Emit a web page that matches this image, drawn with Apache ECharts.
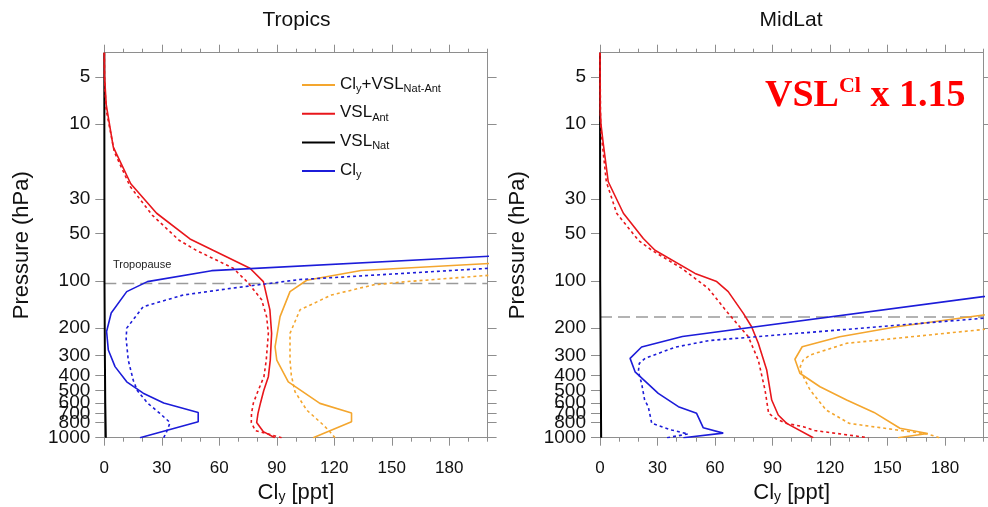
<!DOCTYPE html>
<html>
<head>
<meta charset="utf-8">
<title>Cly profiles</title>
<script src="https://cdn.jsdelivr.net/npm/echarts@6/dist/echarts.min.js"></script>
<style>
  html, body { margin: 0; padding: 0; background: #ffffff; }
  #chart { width: 988px; height: 507px; }
</style>
</head>
<body>
<div id="chart"></div>
<script>
// ---- axis ranges and ticks ----
const P_TOP = 3.5;       // hPa, top of the plot
const P_BOTTOM = 1000;   // hPa, surface
const CLY_MIN = 0;
const CLY_MAX = 200;
const PRESSURE_TICKS = [5, 10, 30, 50, 100, 200, 300, 400, 500, 600, 700, 800, 1000];
// labels drawn by a second, line-less axis so that the tightly packed
// labels next to the surface are not dropped by the min/max overlap check
const PRESSURE_EXTRA_LABELS = [800];
const CLY_TICKS = [0, 30, 60, 90, 120, 150, 180];
const CLY_MINOR_TICKS = [10, 20, 40, 50, 70, 80, 100, 110, 130, 140, 160, 170, 190, 200];

// ---- tropopause pressure (hPa) ----
const TROPOPAUSE_TROPICS = 104;
const TROPOPAUSE_MIDLAT = 170;

// ---- Tropics profiles: [pressure hPa, mixing ratio ppt] ----
const tropicsTotalSolid = [[1000,109],[790,129],[695,129],[604,112.5],[440,96],[320,90],[263,89.1],[169,91.7],[117,96.9],[99,105.6],[85.7,134],[77.3,201],[68,290]];
const tropicsTotalDotted = [[1000,120.4],[915,117.7],[830,114.3],[666,105.6],[509,99.5],[400,97.6],[320,96.9],[216,96.9],[153,102.1],[123,118.5],[106,140.3],[101,157.8],[92,201],[83,250]];
const tropicsAntSolid = [[3.5,0],[5,0.15],[7.5,1],[14,4.7],[24,13.8],[37,27.3],[54,44.7],[64,57],[83,76],[101,83],[153,86.4],[216,87.3],[320,86.6],[408,85.6],[500,83.2],[600,81.5],[700,80.2],[800,79.5],[915,83],[1000,89]];
const tropicsAntDotted = [[3.5,0],[5,0.1],[8,0.9],[15,5.2],[25,13.5],[38,25],[55,39],[64,48.2],[83,67.3],[103,75.1],[132,82.1],[169,84.7],[216,85.6],[320,84.5],[408,83.3],[500,80.3],[600,77.8],[700,76.8],[800,76.7],[900,78.8],[1000,92.5]];
const tropicsNat = [[3.5,0],[100,0.1],[300,0.3],[600,0.5],[1000,0.8]];
const tropicsClySolid = [[1000,18.6],[790,49],[690,49],[600,31],[520,20.3],[440,11.7],[352,5.6],[276,2.1],[210,1.2],[160,3.6],[117,11.7],[101,22.5],[86,56],[69.5,201],[61,290]];
const tropicsClyDotted = [[1000,31],[900,32.8],[800,34.3],[700,29],[600,22.5],[500,17.2],[430,15.1],[320,12.5],[234,11.4],[200,11.7],[146,20.3],[123,41.2],[111,67.3],[98,102],[83,201],[75.5,260]];

// ---- MidLat profiles: [pressure hPa, mixing ratio ppt] ----
const midlatTotalSolid = [[1000,155.5],[940,171],[870,156.5],[690,143],[575,128.7],[473,114.8],[388,104.3],[316,101.7],[263,105.5],[227,125.1],[196,154.8],[165,200],[131.5,260]];
const midlatTotalDotted = [[1000,177],[947,171],[893,155],[810,130],[666,118],[496,109.6],[388,105.2],[352,104.5],[320,106],[297,109.6],[250,128.7],[204,200],[172,260]];
const midlatAntSolid = [[3.5,0],[8,0.1],[10,0.5],[13.3,1.7],[23.3,4.3],[37,12.2],[53.6,22.6],[63.7,28.7],[89.5,49.6],[101,60.9],[117,66.9],[161,74.8],[196,79.1],[250,82.6],[370,87],[575,89.6],[716,93],[810,97.4],[1000,111.3]];
const midlatAntDotted = [[3.5,0],[10,0.3],[13.3,1.2],[23.3,3.3],[37,8.7],[55,20],[63.7,27],[83,42.6],[111.6,56.5],[161,66.9],[227,77.4],[320,82.6],[496,86.1],[700,88],[760,92],[810,97.4],[850,106],[900,112],[1000,140]];
const midlatNat = [[3.5,0],[100,0.1],[1000,0.6]];
const midlatClySolid = [[1000,43.5],[935,64.3],[865,53.9],[699,50.4],[634,40.9],[521,30.4],[380,18.3],[312,15.7],[264,21.7],[226,43],[100,262]];
const midlatClyDotted = [[1000,35],[947,46],[893,37.3],[810,27],[634,25.2],[575,23.3],[450,21.7],[380,20],[336,20.5],[312,23.5],[265,39],[240,57],[173,200],[139,300]];

// ---- styling ----
const FONT = 'Liberation Sans, Arial, Helvetica, sans-serif';
const SERIF = 'Liberation Serif, Times New Roman, serif';
const AXIS_COLOR = '#8e8e8e';
const TEXT_COLOR = '#111111';
const COLOR_TOTAL = '#f4a62e';
const COLOR_ANT = '#e8161b';
const COLOR_NAT = '#000000';
const COLOR_CLY = '#1c1cd9';

const LEGEND_NAMES = ['Cl_y+VSL_Nat-Ant', 'VSL_Ant', 'VSL_Nat', 'Cl_y'];
const LEGEND_RICH_TEXT = {
  'Cl_y+VSL_Nat-Ant': '{n|Cl}{s|y}{n|+VSL}{s|Nat-Ant}',
  'VSL_Ant': '{n|VSL}{s|Ant}',
  'VSL_Nat': '{n|VSL}{s|Nat}',
  'Cl_y': '{n|Cl}{s|y}'
};

// pressure is plotted on a log10 scale: y = log10(p)
const toXY = pairs => pairs.map(([p, v]) => [v, Math.log10(p)]);

const GRID_TOP = 52.7;
const GRID_HEIGHT = 385;
const GRID_WIDTH = 383.3;
const grids = [
  { left: 104.3, top: GRID_TOP, width: GRID_WIDTH, height: GRID_HEIGHT, outerBoundsMode: 'none' },
  { left: 600, top: GRID_TOP, width: GRID_WIDTH, height: GRID_HEIGHT, outerBoundsMode: 'none' }
];

const X_PER_GRID = 4;
const Y_PER_GRID = 3;

function xAxesFor(gi) {
  const common = {
    type: 'value', gridIndex: gi, min: CLY_MIN, max: CLY_MAX,
    splitLine: { show: false }
  };
  const line = { show: true, onZero: false, lineStyle: { color: AXIS_COLOR, width: 1 } };
  const noLine = { show: false, onZero: false };
  const major = { show: true, customValues: CLY_TICKS, length: 8, lineStyle: { color: AXIS_COLOR, width: 1 } };
  const minor = { show: true, customValues: CLY_MINOR_TICKS, length: 4, lineStyle: { color: AXIS_COLOR, width: 1 } };
  return [
    Object.assign({}, common, {
      position: 'bottom', axisLine: line, axisTick: major,
      axisLabel: {
        show: true, customValues: CLY_TICKS, margin: 22, fontSize: 17,
        color: TEXT_COLOR, fontFamily: FONT, showMinLabel: true, showMaxLabel: true
      },
      name: '{n|Cl}{s|y}{n| [ppt]}', nameLocation: 'middle', nameGap: 43,
      nameTextStyle: {
        rich: {
          n: { fontSize: 22, lineHeight: 22, verticalAlign: 'top', fontFamily: FONT, color: TEXT_COLOR },
          s: { fontSize: 14, lineHeight: 23, verticalAlign: 'bottom', fontFamily: FONT, color: TEXT_COLOR }
        }
      }
    }),
    Object.assign({}, common, { position: 'bottom', axisLine: noLine, axisTick: minor, axisLabel: { show: false } }),
    Object.assign({}, common, { position: 'top', axisLine: line, axisTick: major, axisLabel: { show: false } }),
    Object.assign({}, common, { position: 'top', axisLine: noLine, axisTick: minor, axisLabel: { show: false } })
  ];
}

function yAxesFor(gi) {
  const tickValues = PRESSURE_TICKS.map(p => Math.log10(p));
  const mainLabels = PRESSURE_TICKS.filter(p => PRESSURE_EXTRA_LABELS.indexOf(p) < 0).map(p => Math.log10(p));
  const extraLabels = PRESSURE_EXTRA_LABELS.map(p => Math.log10(p));
  const labelStyle = {
    show: true, margin: 14, fontSize: 19, color: TEXT_COLOR, fontFamily: FONT,
    showMinLabel: true, showMaxLabel: true,
    formatter: v => String(Math.round(Math.pow(10, v)))
  };
  const common = {
    type: 'value', gridIndex: gi, inverse: true,
    min: Math.log10(P_TOP), max: Math.log10(P_BOTTOM),
    splitLine: { show: false },
    axisLine: { show: true, onZero: false, lineStyle: { color: AXIS_COLOR, width: 1 } },
    axisTick: { show: true, customValues: tickValues, length: 9, lineStyle: { color: AXIS_COLOR, width: 1 } }
  };
  return [
    Object.assign({}, common, {
      position: 'left',
      axisLabel: Object.assign({}, labelStyle, { customValues: mainLabels }),
      name: 'Pressure (hPa)', nameLocation: 'middle', nameRotate: 90, nameGap: 71,
      nameTextStyle: { fontSize: 22, color: TEXT_COLOR, fontFamily: FONT }
    }),
    Object.assign({}, common, { position: 'right', axisLabel: { show: false } }),
    Object.assign({}, common, {
      position: 'left',
      axisLine: { show: false, onZero: false },
      axisTick: { show: false },
      axisLabel: Object.assign({}, labelStyle, { customValues: extraLabels })
    })
  ];
}

function profile(name, data, color, gi, dotted, width) {
  return {
    type: 'line', name: name, xAxisIndex: gi * X_PER_GRID, yAxisIndex: gi * Y_PER_GRID,
    data: toXY(data), showSymbol: false, symbol: 'none', clip: true, silent: true,
    lineStyle: { color: color, width: width || 1.6, type: dotted ? [3, 3] : 'solid' },
    itemStyle: { color: color }
  };
}

function tropopause(name, p, gi) {
  return {
    type: 'line', name: name, xAxisIndex: gi * X_PER_GRID, yAxisIndex: gi * Y_PER_GRID,
    data: toXY([[p, CLY_MIN], [p, CLY_MAX]]), showSymbol: false, symbol: 'none', silent: true,
    lineStyle: { color: '#9a9a9a', width: 1.5, type: [12, 6] }, z: 1
  };
}

const series = [
  tropopause('Tropics tropopause', TROPOPAUSE_TROPICS, 0),
  profile('VSL_Nat', tropicsNat, COLOR_NAT, 0, false, 2),
  profile('Tropics VSL_Ant dotted', tropicsAntDotted, COLOR_ANT, 0, true),
  profile('VSL_Ant', tropicsAntSolid, COLOR_ANT, 0, false),
  profile('Tropics total dotted', tropicsTotalDotted, COLOR_TOTAL, 0, true),
  profile('Cl_y+VSL_Nat-Ant', tropicsTotalSolid, COLOR_TOTAL, 0, false),
  profile('Tropics Cl_y dotted', tropicsClyDotted, COLOR_CLY, 0, true),
  profile('Cl_y', tropicsClySolid, COLOR_CLY, 0, false),

  tropopause('MidLat tropopause', TROPOPAUSE_MIDLAT, 1),
  profile('MidLat VSL_Nat', midlatNat, COLOR_NAT, 1, false, 2),
  profile('MidLat VSL_Ant dotted', midlatAntDotted, COLOR_ANT, 1, true),
  profile('MidLat VSL_Ant', midlatAntSolid, COLOR_ANT, 1, false),
  profile('MidLat total dotted', midlatTotalDotted, COLOR_TOTAL, 1, true),
  profile('MidLat total', midlatTotalSolid, COLOR_TOTAL, 1, false),
  profile('MidLat Cl_y dotted', midlatClyDotted, COLOR_CLY, 1, true),
  profile('MidLat Cl_y', midlatClySolid, COLOR_CLY, 1, false)
];

const option = {
  backgroundColor: '#ffffff',
  animation: false,
  grid: grids,
  xAxis: xAxesFor(0).concat(xAxesFor(1)),
  yAxis: yAxesFor(0).concat(yAxesFor(1)),
  legend: {
    show: true, data: LEGEND_NAMES, orient: 'vertical',
    left: 302, top: 75.5, padding: 0, itemGap: 9.7,
    itemWidth: 33, itemHeight: 2, icon: 'rect', selectedMode: false,
    formatter: n => LEGEND_RICH_TEXT[n],
    textStyle: {
      rich: {
        n: { fontSize: 17, lineHeight: 17, verticalAlign: 'top', fontFamily: FONT, color: TEXT_COLOR },
        s: { fontSize: 11, lineHeight: 19, verticalAlign: 'bottom', fontFamily: FONT, color: TEXT_COLOR }
      }
    }
  },
  graphic: [
    { type: 'text', x: 296.5, y: 20, silent: true,
      style: { text: 'Tropics', font: '21px ' + FONT, fill: TEXT_COLOR, align: 'center', verticalAlign: 'middle' } },
    { type: 'text', x: 791, y: 20, silent: true,
      style: { text: 'MidLat', font: '21px ' + FONT, fill: TEXT_COLOR, align: 'center', verticalAlign: 'middle' } },
    { type: 'text', x: 113, y: 264.5, silent: true,
      style: { text: 'Tropopause', font: '11px ' + FONT, fill: '#222222', align: 'left', verticalAlign: 'middle' } },
    { type: 'text', x: 765, y: 75.7, silent: true,
      style: {
        text: '{a|VSL}{b|Cl}{a| x 1.15}', align: 'left', verticalAlign: 'top',
        rich: {
          a: { fontSize: 38, lineHeight: 40, fontWeight: 'bold', fontFamily: SERIF, fill: '#ff0000', color: '#ff0000' },
          b: { fontSize: 22, lineHeight: 26, verticalAlign: 'top', fontWeight: 'bold', fontFamily: SERIF, fill: '#ff0000', color: '#ff0000' }
        }
      } }
  ],
  series: series
};

const chart = echarts.init(document.getElementById('chart'), null, { renderer: 'canvas' });
chart.setOption(option);
</script>
</body>
</html>
